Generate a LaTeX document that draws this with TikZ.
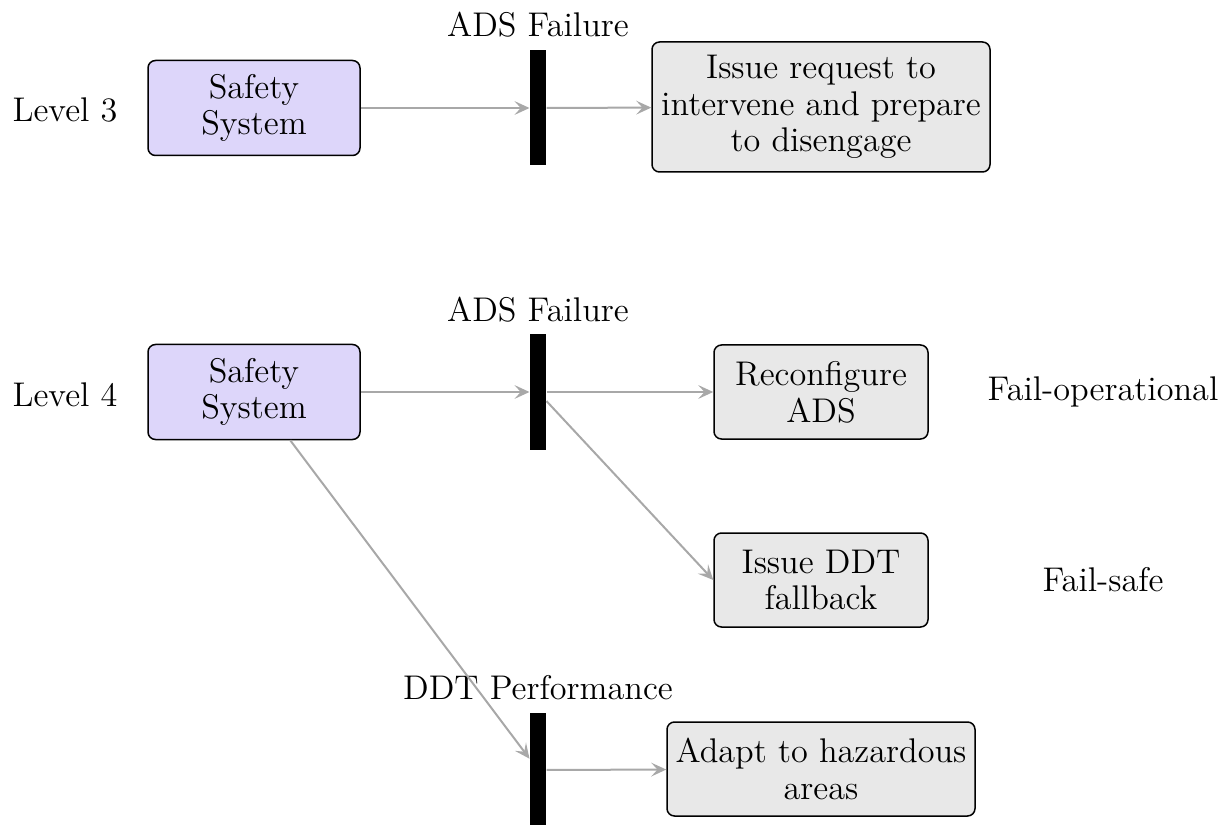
\documentclass[tikz,border=0pt]{standalone}
\usetikzlibrary{arrows.meta}
\definecolor{safefill}{RGB}{221,214,250}
\definecolor{actfill}{RGB}{232,232,232}
\definecolor{arrowgray}{RGB}{168,168,168}
\begin{document}
\begin{tikzpicture}[x=0.4pt,y=-0.4pt,
  every node/.style={font=\fontsize{13.7}{14.7}\selectfont},
  safebox/.style={draw, line width=0.6pt, rounded corners=3pt, fill=safefill, align=center, minimum width=84.8pt, minimum height=38pt, inner sep=2pt},
  actbox/.style={draw, line width=0.6pt, rounded corners=3pt, fill=actfill, align=center, inner sep=2pt},
  bar/.style={fill=black, draw=none, minimum width=6.4pt, minimum height=46pt, inner sep=0pt},
  flow/.style={draw=arrowgray, line width=0.8pt, -{Stealth[length=6pt,width=5.5pt,inset=2.5pt]}},
  lbl/.style={inner sep=0pt}
]
\useasboundingbox (0,0) rectangle (1232,825);
% Level 3
\node[lbl] (l3) at (65,110) {Level 3};
\node[safebox] (s1) at (254,108) {Safety\\System};
\node[bar] (b1) at (538,108) {};
\node[lbl] (f1) at (538,25) {ADS Failure};
\node[actbox, minimum width=135.2pt, minimum height=52pt] (r1) at (821,107) {Issue request to\\intervene and prepare\\to disengage};
\draw[flow] (s1) -- (b1);
\draw[flow] (b1) -- (r1);
% Level 4
\node[lbl] (l4) at (65,395) {Level 4};
\node[safebox] (s2) at (254,392) {Safety\\System};
\node[bar] (b2) at (538,392) {};
\node[lbl] (f2) at (538,310) {ADS Failure};
\node[actbox, minimum width=85.6pt, minimum height=37.6pt] (r2) at (821,392) {Reconfigure\\ADS};
\node[lbl] (o2) at (1103,392) {Fail-operational};
\node[actbox, minimum width=85.6pt, minimum height=37.6pt] (r3) at (821,580) {Issue DDT\\fallback};
\node[lbl] (o3) at (1103,580) {Fail-safe};
\node[bar] (b3) at (538,770) {};
\node[lbl] (f3) at (538,688) {DDT Performance};
\node[actbox, minimum width=123.2pt, minimum height=37.6pt] (r4) at (821,769) {Adapt to hazardous\\areas};
\draw[flow] (s2) -- (b2);
\draw[flow] (b2) -- (r2);
\draw[flow] (b2) -- (r3.west);
\draw[flow] (s2) -- (b3);
\draw[flow] (b3) -- (r4);
\end{tikzpicture}
\end{document}
